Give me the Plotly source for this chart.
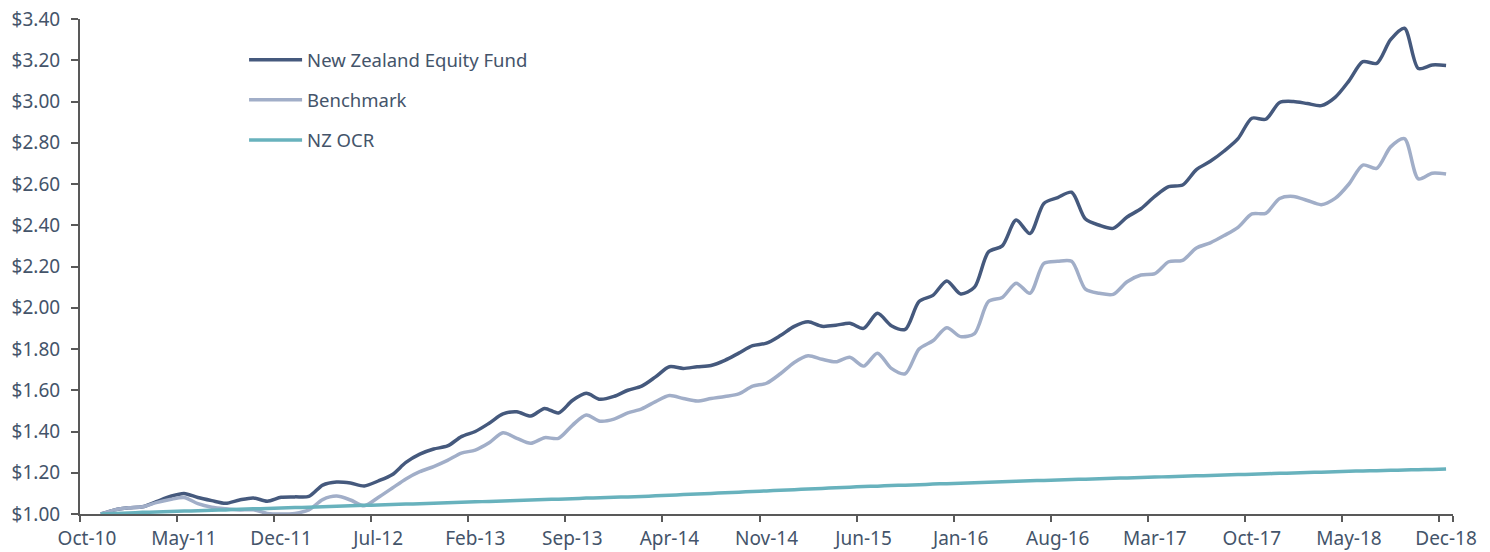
import pandas as pd
import plotly.graph_objects as go

# Monthly categories Oct-10 .. Dec-18
months = list(pd.date_range("2010-10-01", periods=99, freq="MS").strftime("%b-%y"))
data_months = months[1:]  # series start Nov-10

tick_labels = ["Oct-10", "May-11", "Dec-11", "Jul-12", "Feb-13", "Sep-13", "Apr-14",
               "Nov-14", "Jun-15", "Jan-16", "Aug-16", "Mar-17", "Oct-17", "May-18", "Dec-18"]

fund = [1.000, 1.020, 1.030, 1.035, 1.060, 1.085, 1.100, 1.080, 1.065, 1.052,
        1.068, 1.078, 1.062, 1.081, 1.083, 1.085, 1.140, 1.155, 1.150, 1.136,
        1.160, 1.190, 1.250, 1.290, 1.315, 1.330, 1.375, 1.400, 1.440, 1.485,
        1.496, 1.475, 1.512, 1.490, 1.550, 1.585, 1.556, 1.570, 1.600, 1.620,
        1.665, 1.714, 1.706, 1.714, 1.720, 1.745, 1.780, 1.816, 1.828, 1.865,
        1.910, 1.932, 1.910, 1.915, 1.925, 1.900, 1.973, 1.913, 1.895, 2.030,
        2.060, 2.130, 2.067, 2.100, 2.270, 2.300, 2.425, 2.360, 2.506, 2.534,
        2.560, 2.430, 2.400, 2.385, 2.440, 2.480, 2.540, 2.587, 2.595, 2.670,
        2.710, 2.760, 2.820, 2.919, 2.914, 2.995, 3.000, 2.990, 2.980, 3.020,
        3.100, 3.193, 3.185, 3.300, 3.355, 3.160, 3.177, 3.175]

benchmark = [1.000, 1.020, 1.030, 1.035, 1.055, 1.070, 1.080, 1.050, 1.033, 1.025,
             1.020, 1.020, 1.003, 1.000, 1.003, 1.020, 1.070, 1.087, 1.068, 1.040,
             1.080, 1.125, 1.170, 1.205, 1.230, 1.260, 1.295, 1.310, 1.345, 1.394,
             1.367, 1.343, 1.370, 1.367, 1.430, 1.480, 1.450, 1.460, 1.490, 1.510,
             1.545, 1.574, 1.560, 1.548, 1.560, 1.570, 1.582, 1.620, 1.634, 1.680,
             1.735, 1.767, 1.750, 1.738, 1.760, 1.717, 1.780, 1.706, 1.680, 1.800,
             1.840, 1.903, 1.860, 1.875, 2.030, 2.050, 2.119, 2.070, 2.215, 2.225,
             2.225, 2.090, 2.070, 2.065, 2.126, 2.159, 2.165, 2.223, 2.230, 2.290,
             2.315, 2.350, 2.390, 2.455, 2.458, 2.530, 2.540, 2.520, 2.500, 2.530,
             2.600, 2.692, 2.676, 2.780, 2.820, 2.625, 2.652, 2.648]

nz_ocr = [1.000, 1.003, 1.005, 1.008, 1.010, 1.012, 1.014, 1.016, 1.018, 1.020,
          1.023, 1.025, 1.027, 1.029, 1.031, 1.033, 1.035, 1.037, 1.040, 1.042,
          1.044, 1.046, 1.048, 1.050, 1.052, 1.055, 1.057, 1.059, 1.061, 1.063,
          1.066, 1.068, 1.070, 1.072, 1.074, 1.077, 1.079, 1.081, 1.083, 1.085,
          1.088, 1.091, 1.094, 1.097, 1.100, 1.103, 1.106, 1.109, 1.112, 1.115,
          1.118, 1.121, 1.124, 1.127, 1.130, 1.133, 1.135, 1.138, 1.140, 1.142,
          1.145, 1.147, 1.149, 1.152, 1.154, 1.156, 1.159, 1.161, 1.163, 1.165,
          1.167, 1.169, 1.171, 1.173, 1.175, 1.177, 1.179, 1.181, 1.183, 1.185,
          1.187, 1.189, 1.191, 1.193, 1.195, 1.197, 1.199, 1.201, 1.203, 1.205,
          1.207, 1.209, 1.210, 1.212, 1.213, 1.215, 1.216, 1.218]

series = [
    ("New Zealand Equity Fund", fund, "#45597D"),
    ("Benchmark", benchmark, "#A1AEC8"),
    ("NZ OCR", nz_ocr, "#68B2BD"),
]

TEXT = "#44546A"
AXIS = "#595959"
FONT = "Noto Sans"

fig = go.Figure()
for i, (name, vals, color) in enumerate(series):
    fig.add_trace(go.Scatter(
        x=data_months, y=vals, name=name, mode="lines",
        line=dict(color=color, width=3.5, shape="spline", smoothing=0.8),
        legendgroup=f"g{i}",
    ))

fig.update_layout(
    width=1490, height=552,
    margin=dict(l=80, r=37, t=19, b=38),
    paper_bgcolor="white", plot_bgcolor="white",
    font=dict(family=FONT, size=18, color=TEXT),
    showlegend=True,
    legend=dict(x=0.1195, y=0.955, xanchor="left", yanchor="top",
                bgcolor="rgba(0,0,0,0)", itemwidth=53, tracegroupgap=13,
                font=dict(family=FONT, size=18.5, color=TEXT)),
    xaxis=dict(
        type="category", categoryorder="array", categoryarray=months,
        range=[-0.5, 98.5], tickvals=tick_labels, ticktext=tick_labels,
        tickson="boundaries", ticks="outside", ticklen=6, tickwidth=2,
        tickangle=0, automargin=False, ticklabelstandoff=6,
        tickcolor=AXIS, showline=True, linecolor=AXIS, linewidth=2,
        showgrid=False, zeroline=False, tickfont=dict(family=FONT, size=19, color=TEXT),
    ),
    yaxis=dict(
        range=[1.0, 3.4], dtick=0.2, tick0=1.0, tickformat="$.2f",
        ticks="outside", ticklen=7, tickwidth=2, tickcolor=AXIS, automargin=False,
        ticklabelstandoff=7,
        showline=True, linecolor=AXIS, linewidth=2, showgrid=False, zeroline=False,
        tickfont=dict(family=FONT, size=19, color=TEXT),
    ),
)

fig.write_html("out.html", config={"displayModeBar": False},
               post_script="document.body.style.margin='0';")
